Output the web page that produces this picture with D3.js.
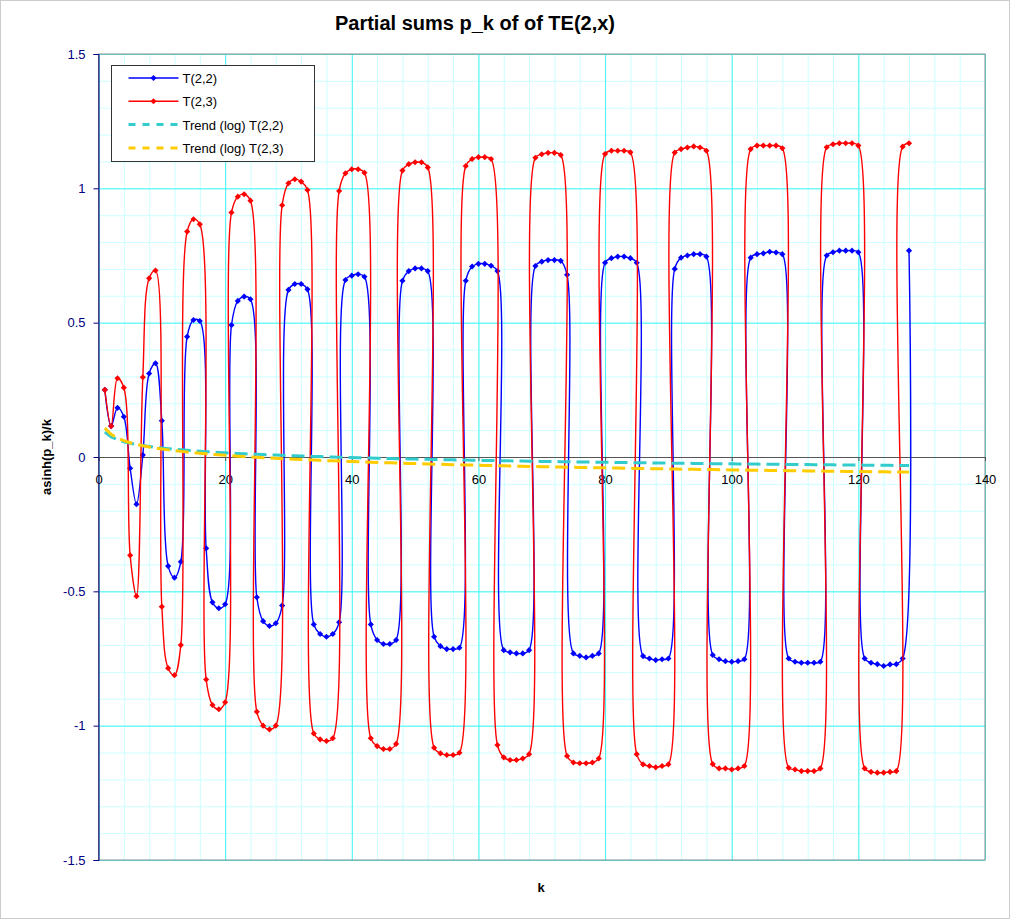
<!DOCTYPE html>
<html>
<head>
<meta charset="utf-8">
<script src="https://cdn.jsdelivr.net/npm/d3@7/dist/d3.min.js"></script>
<style>
  body { margin: 0; background: #fff; }
  svg { display: block; font-family: "Liberation Sans", Arial, sans-serif; }
</style>
</head>
<body>
<div id="chart"></div>
<script>
// k = 1..128
const kValues = d3.range(1, 129);

const t22 = [
  0.250, 0.115, 0.183, 0.150, -0.042, -0.176, 0.007, 0.311, 0.349, 0.135,
  -0.406, -0.449, -0.390, 0.448, 0.510, 0.506, -0.340, -0.541, -0.563, -0.548,
  0.491, 0.581, 0.597, 0.587, -0.522, -0.611, -0.629, -0.619, -0.553, 0.622,
  0.644, 0.644, 0.624, -0.623, -0.659, -0.669, -0.659, -0.615, 0.659, 0.675,
  0.680, 0.671, -0.623, -0.681, -0.696, -0.696, -0.681, 0.656, 0.692, 0.702,
  0.702, 0.692, -0.669, -0.704, -0.715, -0.715, -0.710, 0.656, 0.709, 0.719,
  0.719, 0.712, 0.692, -0.719, -0.727, -0.731, -0.731, -0.719, 0.711, 0.727,
  0.733, 0.733, 0.730, 0.678, -0.731, -0.740, -0.746, -0.740, -0.731, 0.723,
  0.740, 0.746, 0.746, 0.740, 0.723, -0.741, -0.750, -0.756, -0.753, -0.750,
  0.700, 0.742, 0.750, 0.755, 0.755, 0.746, -0.737, -0.753, -0.760, -0.762,
  -0.760, -0.753, 0.742, 0.755, 0.758, 0.764, 0.761, 0.755, -0.750, -0.762,
  -0.766, -0.766, -0.766, -0.762, 0.750, 0.762, 0.768, 0.768, 0.768, 0.762,
  -0.750, -0.766, -0.771, -0.778, -0.772, -0.771, -0.750, 0.768
];

const t23 = [
  0.250, 0.115, 0.293, 0.258, -0.366, -0.518, 0.297, 0.665, 0.694, -0.557,
  -0.786, -0.812, -0.700, 0.839, 0.885, 0.866, -0.828, -0.923, -0.939, -0.913,
  0.910, 0.969, 0.978, 0.954, -0.948, -1.000, -1.014, -1.000, 0.937, 1.019,
  1.034, 1.025, 0.994, -1.029, -1.051, -1.057, -1.047, 0.990, 1.056, 1.071,
  1.071, 1.058, -1.047, -1.076, -1.087, -1.087, -1.068, 1.066, 1.090, 1.097,
  1.097, 1.078, -1.082, -1.103, -1.109, -1.109, -1.101, 1.083, 1.109, 1.116,
  1.116, 1.109, -1.072, -1.118, -1.128, -1.128, -1.122, -1.106, 1.114, 1.127,
  1.132, 1.132, 1.124, -1.113, -1.137, -1.140, -1.140, -1.137, -1.122, 1.128,
  1.140, 1.140, 1.140, 1.134, -1.106, -1.144, -1.150, -1.155, -1.150, -1.144,
  1.133, 1.146, 1.152, 1.156, 1.152, 1.140, -1.143, -1.159, -1.159, -1.163,
  -1.159, -1.150, 1.146, 1.159, 1.159, 1.159, 1.159, 1.149, -1.157, -1.163,
  -1.169, -1.169, -1.169, -1.159, 1.153, 1.164, 1.168, 1.168, 1.168, 1.159,
  -1.159, -1.172, -1.175, -1.175, -1.172, -1.169, 1.155, 1.168
];

const seriesNames = ["T(2,2)", "T(2,3)"];
const trendNames = ["Trend (log) T(2,2)", "Trend (log) T(2,3)"];
const xTicks = [0, 20, 40, 60, 80, 100, 120, 140];
const yTicks = [-1.5, -1, -0.5, 0, 0.5, 1, 1.5];

const width = 1011, height = 919;
const margin = { top: 54, right: 26, bottom: 59, left: 98.5 };

const svg = d3.select("#chart").append("svg")
  .attr("width", width)
  .attr("height", height);

// outer dotted frame
svg.append("rect")
  .attr("x", 0.5).attr("y", 0.5)
  .attr("width", width - 2).attr("height", height - 1)
  .attr("fill", "none")
  .attr("stroke", "#999")
  .attr("stroke-dasharray", "1,1");

const x = d3.scaleLinear().domain([0, 140]).range([margin.left, width - margin.right]);
const y = d3.scaleLinear().domain([-1.5, 1.5]).range([height - margin.bottom, margin.top]);

const plotW = x(140) - x(0);
const plotH = y(-1.5) - y(1.5);

// minor grid
svg.append("g")
  .attr("transform", `translate(0,${y(-1.5)})`)
  .call(d3.axisBottom(x).tickValues(d3.range(0, 141, 4)).tickSize(-plotH).tickFormat(""))
  .call(g => g.select(".domain").remove())
  .call(g => g.selectAll("line").attr("stroke", "#ccffff"));
svg.append("g")
  .attr("transform", `translate(${x(0)},0)`)
  .call(d3.axisLeft(y).tickValues(d3.range(-15, 16).map(d => d / 10)).tickSize(-plotW).tickFormat(""))
  .call(g => g.select(".domain").remove())
  .call(g => g.selectAll("line").attr("stroke", "#ccffff"));

// major grid
svg.append("g")
  .attr("transform", `translate(0,${y(-1.5)})`)
  .call(d3.axisBottom(x).tickValues(xTicks).tickSize(-plotH).tickFormat(""))
  .call(g => g.select(".domain").remove())
  .call(g => g.selectAll("line").attr("stroke", "#44f4f4"));
svg.append("g")
  .attr("transform", `translate(${x(0)},0)`)
  .call(d3.axisLeft(y).tickValues(yTicks).tickSize(-plotW).tickFormat(""))
  .call(g => g.select(".domain").remove())
  .call(g => g.selectAll("line").attr("stroke", "#44f4f4"));

// plot border
svg.append("rect")
  .attr("x", x(0)).attr("y", y(1.5))
  .attr("width", plotW).attr("height", plotH)
  .attr("fill", "none")
  .attr("stroke", "#8c8c8c");

// x axis through zero
svg.append("g")
  .attr("transform", `translate(0,${y(0)})`)
  .call(d3.axisBottom(x).tickValues(xTicks).tickSize(4).tickPadding(14))
  .call(g => g.select(".domain").attr("stroke", "#555"))
  .call(g => g.selectAll(".tick line").attr("stroke", "#555"))
  .call(g => g.selectAll("text").attr("font-size", 13).attr("fill", "#000")
    .attr("font-family", "Liberation Sans, Arial, sans-serif"));

// y axis
svg.append("g")
  .attr("transform", `translate(${x(0)},0)`)
  .call(d3.axisLeft(y).tickValues(yTicks).tickSize(5).tickPadding(8).tickFormat(d => d))
  .call(g => g.select(".domain").attr("stroke", "#000080"))
  .call(g => g.selectAll(".tick line").attr("stroke", "#000080"))
  .call(g => g.selectAll("text").attr("font-size", 13).attr("fill", "#000080")
    .attr("font-family", "Liberation Sans, Arial, sans-serif"));

// log trend fit y = a ln(k) + b
function logFit(values) {
  const lx = kValues.map(k => Math.log(k));
  const mx = d3.mean(lx), my = d3.mean(values);
  const sxy = d3.sum(lx, (v, i) => (v - mx) * (values[i] - my));
  const sxx = d3.sum(lx, v => (v - mx) * (v - mx));
  const a = sxy / sxx;
  return { a, b: my - a * mx };
}

const line = d3.line()
  .x(d => x(d[0]))
  .y(d => y(d[1]))
  .curve(d3.curveCatmullRom.alpha(0.5));

const series = [
  { name: seriesNames[0], values: t22, color: "#0000ff" },
  { name: seriesNames[1], values: t23, color: "#ff0000" }
];

const marker = d3.symbol().type(d3.symbolDiamond2).size(24);

series.forEach(s => {
  const pts = kValues.map((k, i) => [k, s.values[i]]);
  svg.append("path")
    .datum(pts)
    .attr("d", line)
    .attr("fill", "none")
    .attr("stroke", s.color)
    .attr("stroke-width", 1.4);
  svg.append("g").selectAll("path")
    .data(pts)
    .join("path")
    .attr("transform", d => `translate(${x(d[0])},${y(d[1])})`)
    .attr("d", marker)
    .attr("fill", s.color);
});

const trends = [
  { name: trendNames[0], fit: logFit(t22), color: "#33cccc" },
  { name: trendNames[1], fit: logFit(t23), color: "#ffcc00" }
];

trends.forEach(t => {
  const pts = kValues.map(k => [k, t.fit.a * Math.log(k) + t.fit.b]);
  svg.append("path")
    .datum(pts)
    .attr("d", d3.line().x(d => x(d[0])).y(d => y(d[1])))
    .attr("fill", "none")
    .attr("stroke", t.color)
    .attr("stroke-width", 3)
    .attr("stroke-dasharray", "13,6");
});
console.log(trends.map(t => t.fit));

// title and axis titles
svg.append("text")
  .attr("x", 475).attr("y", 30)
  .attr("text-anchor", "middle")
  .attr("font-size", 20).attr("font-weight", "bold")
  .text("Partial sums p_k of of TE(2,x)");

svg.append("text")
  .attr("x", 541).attr("y", 892)
  .attr("text-anchor", "middle")
  .attr("font-size", 13).attr("font-weight", "bold")
  .text("k");

svg.append("text")
  .attr("transform", "translate(51,457) rotate(-90)")
  .attr("text-anchor", "middle")
  .attr("font-size", 13).attr("font-weight", "bold")
  .text("asinh(p_k)/k");

// legend
const legend = svg.append("g").attr("transform", "translate(111.5,65.5)");
legend.append("rect")
  .attr("width", 203).attr("height", 96)
  .attr("fill", "#fff")
  .attr("stroke", "#333");

const legendItems = [
  { label: seriesNames[0], color: "#0000ff", marker: true },
  { label: seriesNames[1], color: "#ff0000", marker: true },
  { label: trendNames[0], color: "#33cccc", marker: false },
  { label: trendNames[1], color: "#ffcc00", marker: false }
];

legendItems.forEach((item, i) => {
  const row = legend.append("g").attr("transform", `translate(0,${12.5 + i * 23.3})`);
  row.append("line")
    .attr("x1", 17).attr("x2", 67)
    .attr("stroke", item.color)
    .attr("stroke-width", item.marker ? 1.4 : 3)
    .attr("stroke-dasharray", item.marker ? null : "7,7");
  if (item.marker) {
    row.append("path")
      .attr("transform", "translate(42,0)")
      .attr("d", marker)
      .attr("fill", item.color);
  }
  row.append("text")
    .attr("x", 71).attr("y", 5)
    .attr("font-size", 13)
    .text(item.label);
});
</script>
</body>
</html>
